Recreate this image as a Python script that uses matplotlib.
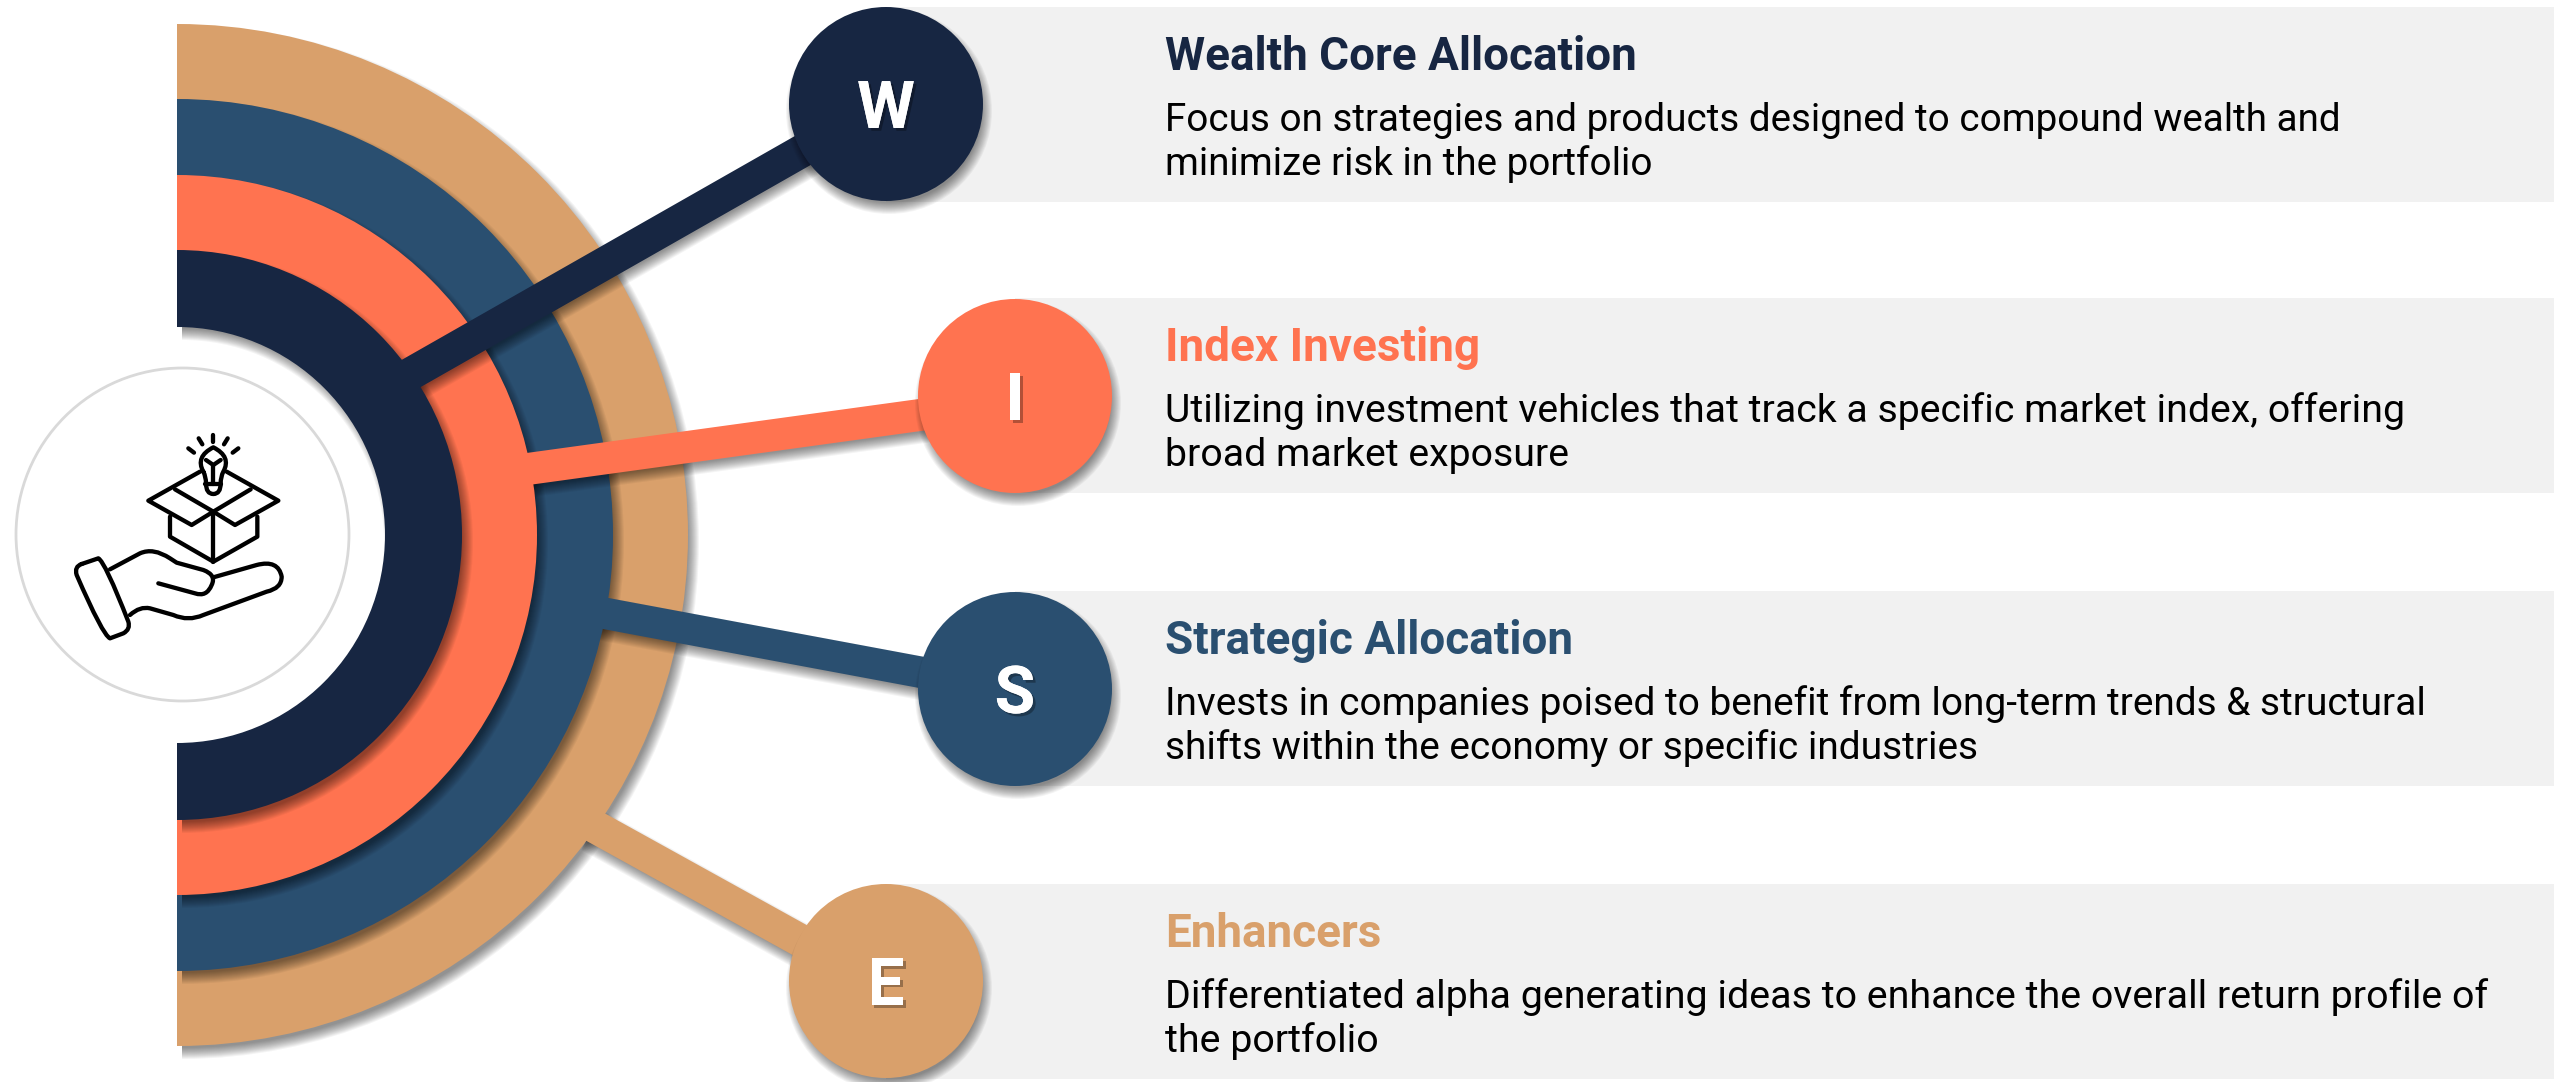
import matplotlib
matplotlib.use("Agg")
import matplotlib.pyplot as plt
from matplotlib.patches import Wedge, Circle, Rectangle, Polygon, PathPatch
from matplotlib.path import Path
import matplotlib.patheffects as pe
import numpy as np

# ---- content ----
letters = ["W", "I", "S", "E"]
titles = ["Wealth Core Allocation", "Index Investing", "Strategic Allocation", "Enhancers"]
descriptions = [
    "Focus on strategies and products designed to compound wealth and\nminimize risk in the portfolio",
    "Utilizing investment vehicles that track a specific market index, offering\nbroad market exposure",
    "Invests in companies poised to benefit from long-term trends & structural\nshifts within the economy or specific industries",
    "Differentiated alpha generating ideas to enhance the overall return profile of\nthe portfolio",
]
colors = ["#172642", "#FF7350", "#2A4F70", "#D9A06B"]

# ---- layout (pixels) ----
W, H = 2554, 1082
circle_x = [886, 1015, 1015, 886]
circle_y = [104, 396, 689, 981]
circle_r = 97
panel_top = [7, 298, 591, 884]
panel_h = 195
ring_r = [285, 360, 436, 511]
hole_r = 208
cx, cy = 177, 535
conn_start = [(405, 377), (524, 469.5), (595, 611.5), (590, 824)]
conn_end = [(830, 135), (930, 413.6), (930, 674), (805, 943)]
conn_w = [33, 32, 31.5, 33]
desc_size = [27.8, 28.25, 28.0, 28.4]

fig = plt.figure(figsize=(W / 100, H / 100), dpi=100)
ax = fig.add_axes([0, 0, 1, 1])
ax.set_xlim(0, W)
ax.set_ylim(H, 0)
ax.axis("off")
FONT = "Roboto"

BLUR = 12


def shadow(make, z, dx=5, dy=7, alpha=0.042):
    """Stacked translucent layers, from wide to narrow, give a soft edge."""
    for i in range(BLUR):
        grow = (BLUR / 2 - i) * 1.0
        p = make(dx, dy, grow)
        p.set(facecolor="black", edgecolor="none", alpha=alpha, zorder=z)
        ax.add_patch(p)


def connector_poly(a, b, w, ox=0, oy=0):
    a, b = np.array(a, float), np.array(b, float)
    d = (b - a) / np.linalg.norm(b - a)
    n = np.array([-d[1], d[0]]) * w / 2
    off = np.array([ox, oy])
    return [a + n + off, b + n + off, b - n + off, a - n + off]


# panels
for i in range(4):
    ax.add_patch(Rectangle((circle_x[i], panel_top[i]), W - circle_x[i], panel_h,
                           facecolor="#F1F1F1", edgecolor="none", zorder=1))

# rings, outermost first, each with its connector
z = 2
for k in range(3, -1, -1):
    r = ring_r[k]
    a, b, w_ = conn_start[k], conn_end[k], conn_w[k]
    if k == 0:
        # the hole: white half disc, the navy ring then casts its shadow into it
        ax.add_patch(Wedge((cx, cy), r - 5, -90, 90, facecolor="white", edgecolor="none", zorder=z))
        z += 1
    width = r - hole_r if k == 0 else None
    shadow(lambda dx, dy, g: Wedge((cx + dx, cy + dy), r + g, -90, 90,
                                   width=(None if width is None else width + 2 * g)), z)
    z += 1
    shadow(lambda dx, dy, g: Polygon(connector_poly(a, b, w_ + 2 * g, dx * 0.4, dy * 0.9)), z)
    z += 1
    ax.add_patch(Polygon(connector_poly(a, b, w_), facecolor=colors[k], edgecolor="none", zorder=z))
    z += 1
    ax.add_patch(Wedge((cx, cy), r, -90, 90, width=width, facecolor=colors[k], edgecolor="none", zorder=z))
    z += 1

ax.add_patch(Circle((182.5, 534.5), 166.5, facecolor="white", edgecolor="#D9D9D9", linewidth=2.0, zorder=z))
z += 1

# icon
ICON_LW = 3.1


def ix(x, y):
    return (x / 3, 340 + y / 3)


def stroke(points, codes=None):
    v = [ix(*p) for p in points]
    if codes is None:
        codes = [Path.MOVETO] + [Path.LINETO] * (len(v) - 1)
    ax.add_patch(PathPatch(Path(v, codes), facecolor="none", edgecolor="black", linewidth=ICON_LW,
                           capstyle="round", joinstyle="round", zorder=z))


M, L, C = Path.MOVETO, Path.LINETO, Path.CURVE3
for seg in [[(565, 325), (582, 338)], [(596, 295), (607, 313)], [(640, 285), (640, 305)],
            [(683, 295), (672, 313)], [(715, 325), (698, 338)]]:
    stroke(seg)
# bulb
stroke([(610, 395), (585, 350), (640, 322), (695, 350), (670, 395), (662, 410), (662, 430), (662, 462), (640, 462),
        (618, 462), (618, 430), (618, 410), (610, 395)], [M, C, C, C, C, C, C, C, C, C, C, C, C])
stroke([(616, 432), (664, 432)])
stroke([(640, 432), (640, 375)])
stroke([(618, 360), (640, 375), (662, 360)])
# box
stroke([(600, 395), (445, 482), (575, 555), (640, 515), (705, 555), (835, 482), (680, 395)])
stroke([(525, 448), (640, 515), (752, 448)])
stroke([(510, 530), (510, 590), (640, 665), (772, 590), (772, 530)])
stroke([(640, 515), (640, 665)])
# cuff
stroke([(245, 672), (295, 655), (315, 665), (385, 845), (392, 868), (370, 880), (330, 895), (308, 885), (230, 705), (222, 680), (245, 672)],
       [M, L, C, C, C, C, L, C, L, C, C])
# hand
stroke([(330, 688), (420, 640), (460, 622), (510, 655), (530, 668), (610, 690), (650, 705), (635, 735), (620, 772), (585, 760), (475, 730)],
       [M, L, C, C, L, L, C, C, C, C, L])
stroke([(640, 712), (770, 675), (835, 658), (845, 710), (845, 745), (800, 755), (610, 825), (565, 845), (520, 825), (450, 805), (420, 798), (390, 825)],
       [M, L, C, C, C, C, L, C, C, L, C, C])
z += 1

# circles and text
for i in range(4):
    shadow(lambda dx, dy, g: Circle((circle_x[i] + dx * 0.6, circle_y[i] + dy), circle_r + g), z)
    z += 1
    ax.add_patch(Circle((circle_x[i], circle_y[i]), circle_r, facecolor=colors[i], edgecolor="none", zorder=z))
    z += 1
    ax.text(circle_x[i], circle_y[i] + 24, letters[i], color="white", fontsize=47.5, fontweight="bold", family=FONT,
            ha="center", va="baseline", zorder=z,
            path_effects=[pe.withSimplePatchShadow(offset=(2, -2), shadow_rgbFace="black", alpha=0.3), pe.Normal()])
    ax.text(1165, panel_top[i] + 63, titles[i], color=colors[i], fontsize=33, fontweight="bold", family=FONT,
            ha="left", va="baseline", zorder=z)
    lines = descriptions[i].split("\n")
    for j, line in enumerate(lines):
        ax.text(1165, panel_top[i] + 124 + 44 * j, line, color="black", fontsize=desc_size[i], family=FONT,
                ha="left", va="baseline", zorder=z)

fig.savefig("out.png", dpi=100, facecolor="white")
